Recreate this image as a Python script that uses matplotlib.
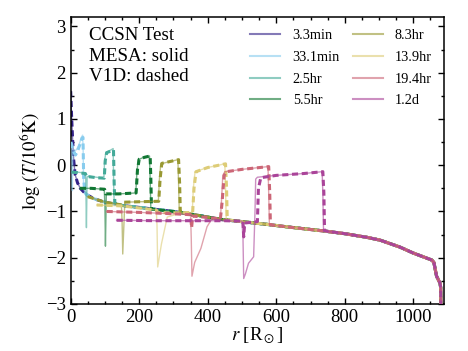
import matplotlib
matplotlib.use("Agg")
import matplotlib.pyplot as plt
import numpy as np
from matplotlib.ticker import MultipleLocator

plt.rcParams['font.family'] = ['Liberation Serif', 'DejaVu Serif']
plt.rcParams['mathtext.fontset'] = 'stix'

# Unshocked progenitor profile (shared outer part)
base_r = [0, 3, 6, 9, 13, 20, 28, 45, 70, 100, 150, 220, 300, 360, 437, 500, 574,
          640, 700, 737, 800, 865, 903, 961, 1000, 1054, 1060, 1068, 1078, 1080, 1081]
base_T = [1.6, 1.0, 0.5, 0.1, -0.2, -0.38, -0.5, -0.63, -0.73, -0.8, -0.87, -0.93, -1.0,
          -1.07, -1.17, -1.22, -1.28, -1.34, -1.39, -1.42, -1.48, -1.56, -1.62, -1.77,
          -1.9, -2.05, -2.1, -2.4, -2.55, -2.65, -3.3]

labels = ['3.3min', '33.1min', '2.5hr', '5.5hr', '8.3hr', '13.9hr', '19.4hr', '1.2d']
colors = ['#332288', '#88CCEE', '#44AA99', '#117733', '#999933', '#DDCC77', '#CC6677', '#AA4499']

# MESA (solid) inner structure, up to the shock
mesa_r = [
    [],
    [1, 3, 5, 6, 8, 12, 18, 25, 31, 35, 36.5, 37.5, 40],
    [3, 20, 42, 44, 46, 48, 55, 75, 97, 99, 103, 115, 124, 125.5, 127],
    [27, 60, 98, 100, 101.5, 104, 140, 190, 193, 197, 210, 230, 232, 234],
    [50, 100, 148, 150, 152, 158, 200, 256, 259, 263, 290, 313, 315, 317],
    [76, 150, 250, 252, 254, 265, 282, 320, 355, 358, 363, 400, 450, 452, 454],
    [105, 200, 300, 350, 352, 354, 362, 380, 398, 413, 437, 440, 444, 450, 500, 576, 578, 580],
    [134, 250, 350, 450, 500, 503, 505, 510, 519, 534, 538, 540, 545, 600, 680, 734, 736, 738],
]
mesa_T = [
    [],
    [0.5, 0.4, -0.55, 0.2, 0.35, 0.3, 0.35, 0.45, 0.6, 0.65, 0.3, -0.35, -0.56],
    [-0.15, -0.15, -0.17, -0.3, -1.35, -0.25, -0.24, -0.26, -0.28, 0.1, 0.28, 0.32, 0.36, -0.4, -0.82],
    [-0.5, -0.5, -0.52, -0.9, -1.75, -0.62, -0.62, -0.6, -0.2, 0.12, 0.16, 0.2, -0.3, -0.95],
    [-0.68, -0.8, -0.86, -1.2, -1.92, -0.8, -0.79, -0.78, -0.3, 0.03, 0.08, 0.12, -0.4, -1.01],
    [-0.86, -0.88, -0.97, -1.3, -2.2, -1.7, -1.12, -1.04, -1.02, -0.5, -0.14, -0.05, 0.03, -0.5, -1.18],
    [-1.0, -1.02, -1.05, -1.07, -1.6, -2.4, -2.1, -1.8, -1.33, -1.15, -1.16, -0.8, -0.22, -0.14, -0.09, -0.03, -0.6, -1.29],
    [-1.19, -1.2, -1.2, -1.2, -1.21, -1.6, -2.45, -2.35, -2.12, -1.98, -1.0, -0.3, -0.26, -0.22, -0.18, -0.14, -0.6, -1.42],
]

# V1D (dashed) inner structure, up to the shock
v1d_r = [
    [],
    [1, 4, 8, 14, 20, 27, 33, 36, 38, 41],
    [3, 20, 43, 47, 55, 75, 98, 101, 105, 115, 125, 127, 129],
    [27, 60, 99, 102, 140, 191, 195, 200, 215, 232, 234, 236],
    [50, 100, 150, 155, 200, 257, 261, 266, 290, 315, 318, 320],
    [76, 150, 250, 254, 282, 320, 356, 360, 366, 400, 452, 455, 457],
    [105, 200, 300, 350, 353, 356, 400, 437, 442, 448, 455, 500, 578, 581, 583],
    [134, 250, 350, 450, 503, 505, 508, 545, 548, 555, 600, 680, 736, 739, 741],
]
v1d_T = [
    [],
    [0.5, 0.42, 0.3, 0.22, 0.3, 0.45, 0.58, 0.6, -0.3, -0.57],
    [-0.15, -0.16, -0.18, -0.26, -0.25, -0.27, -0.28, 0.1, 0.27, 0.3, 0.33, -0.4, -0.82],
    [-0.5, -0.5, -0.52, -0.62, -0.62, -0.6, -0.1, 0.13, 0.17, 0.2, -0.3, -0.95],
    [-0.68, -0.8, -0.86, -0.8, -0.79, -0.78, -0.3, 0.04, 0.08, 0.12, -0.4, -1.01],
    [-0.86, -0.88, -0.97, -1.02, -1.03, -1.03, -1.02, -0.5, -0.14, -0.05, 0.03, -0.5, -1.18],
    [-1.0, -1.02, -1.05, -1.07, -1.35, -1.1, -1.13, -1.16, -0.8, -0.22, -0.14, -0.09, -0.03, -0.6, -1.29],
    [-1.19, -1.2, -1.2, -1.2, -1.21, -1.55, -1.25, -1.22, -0.5, -0.27, -0.22, -0.18, -0.14, -0.6, -1.42],
]


def full_profile(r_in, T_in):
    br = np.asarray(base_r, float)
    bT = np.asarray(base_T, float)
    if len(r_in) == 0:
        return br, bT
    mask = br > r_in[-1]
    return np.concatenate([r_in, br[mask]]), np.concatenate([T_in, bT[mask]])


fig = plt.figure(figsize=(4.68, 3.51), dpi=100)
ax = fig.add_axes([0.151, 0.134, 0.798, 0.817])

for i, (lab, c) in enumerate(zip(labels, colors)):
    r, T = full_profile(mesa_r[i], mesa_T[i])
    ax.plot(r, T, '-', color=c, lw=1.0, alpha=0.6, label=lab, zorder=2 + i)
    r, T = full_profile(v1d_r[i], v1d_T[i])
    ax.plot(r, T, color=c, lw=2.2, dashes=(2.0, 1.2), zorder=2 + i)

ax.set_xlim(0, 1090)
ax.set_ylim(-3, 3.2)
ax.xaxis.set_major_locator(MultipleLocator(200))
ax.xaxis.set_minor_locator(MultipleLocator(50))
ax.yaxis.set_major_locator(MultipleLocator(1))
ax.yaxis.set_minor_locator(MultipleLocator(0.5))
ax.tick_params(which='both', direction='in', top=True, right=True, labelsize=13.5, width=1.0)
ax.tick_params(which='major', length=4.5)
ax.tick_params(which='minor', length=2.5)
for s in ax.spines.values():
    s.set_linewidth(1.1)

ax.set_xlabel(r'$r$ [R$_\odot$]', fontsize=13.5, labelpad=0)
ax.set_ylabel(r'$\log\,(T/10^6{\rm K})$', fontsize=13.5, labelpad=2)

ax.text(0.049, 0.966, 'CCSN Test\nMESA: solid\nV1D: dashed', transform=ax.transAxes,
        ha='left', va='top', fontsize=13.7, linespacing=1.28)

leg = ax.legend(loc='upper right', ncol=2, frameon=False, fontsize=10.3,
                handlelength=2.1, columnspacing=0.9, labelspacing=0.6,
                handletextpad=0.85, borderaxespad=0.6, borderpad=0.25)
for h in leg.get_lines():
    h.set_linewidth(1.5)

fig.savefig('out.png', dpi=100)
